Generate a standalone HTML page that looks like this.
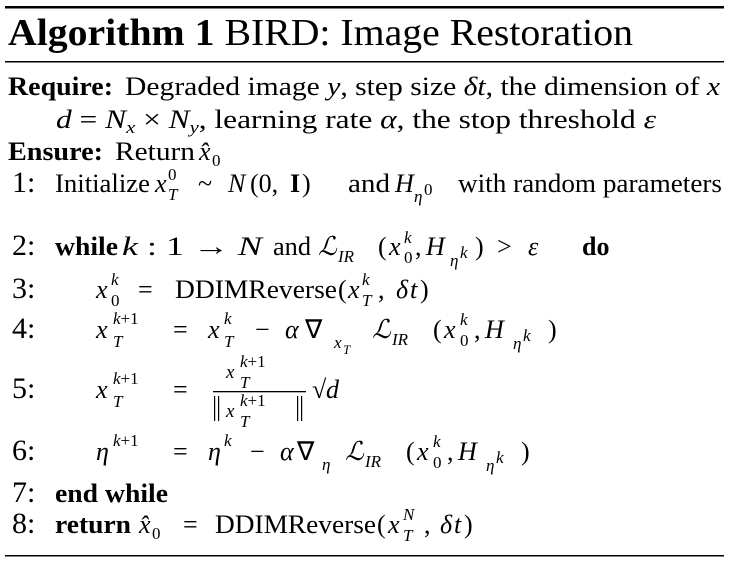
<!DOCTYPE html>
<html><head><meta charset="utf-8"><style>
html,body{margin:0;padding:0;background:#fff;width:729px;height:563px;overflow:hidden}
svg{display:block}
text{font-family:"Liberation Serif","Times New Roman",serif;fill:#000;font-weight:normal}
.b{font-weight:bold}.i{font-style:italic}.s{font-size:17px}.n{font-size:30px}
</style></head><body>
<svg width="729" height="563">
<rect x="5" y="6" width="719" height="2.5" fill="#000"/>
<rect x="5" y="61" width="719" height="1.5" fill="#000"/>
<rect x="5" y="555" width="719" height="1.5" fill="#000"/>
<text x="8" y="45" font-size="38" textLength="625" lengthAdjust="spacingAndGlyphs"><tspan class="b">Algorithm 1</tspan> BIRD: Image Restoration</text>

<g font-size="26">
<text x="8" y="95" class="b" textLength="105" lengthAdjust="spacingAndGlyphs">Require:</text>
<text x="125" y="95" textLength="595" lengthAdjust="spacingAndGlyphs">Degraded image <tspan class="i">y</tspan>, step size <tspan class="i">δt</tspan>, the dimension of <tspan class="i">x</tspan></text>
<text x="56" y="128" textLength="600" lengthAdjust="spacingAndGlyphs"><tspan class="i">d</tspan> = <tspan class="i">N</tspan><tspan class="i s" dy="5">x</tspan><tspan dy="-5"> × </tspan><tspan class="i">N</tspan><tspan class="i s" dy="5">y</tspan><tspan dy="-5">, learning rate </tspan><tspan class="i">α</tspan>, the stop threshold <tspan class="i">ε</tspan></text>
</g>
<g font-size="26">
<text x="8" y="160" class="b" textLength="95" lengthAdjust="spacingAndGlyphs">Ensure:</text>
<text x="115" y="160" textLength="80" lengthAdjust="spacingAndGlyphs">Return</text>
<text x="199" y="160" class="i">x̂</text><text x="212" y="166" class="s">0</text>
</g>

<g>
<text x="12" y="192" class="n">1:</text><text x="12" y="255" class="n">2:</text><text x="12" y="298" class="n">3:</text><text x="12" y="338" class="n">4:</text><text x="12" y="398" class="n">5:</text><text x="12" y="460" class="n">6:</text><text x="12" y="502" class="n">7:</text><text x="12" y="533" class="n">8:</text>
</g>

<g font-size="26">
<text x="55" y="192" textLength="95" lengthAdjust="spacingAndGlyphs">Initialize</text>
<text x="155" y="192" class="i">x</text><text x="168" y="180" class="s">0</text><text x="168" y="200" class="s i">T</text>
<text x="198" y="192">~</text><text x="228" y="192" class="i">N</text><text x="250" y="192">(0,</text><text x="290" y="192" class="b">I</text><text x="302" y="192">)</text>
<text x="348" y="192" textLength="42" lengthAdjust="spacingAndGlyphs">and</text>
<text x="395" y="192" class="i">H</text><text x="414" y="202" class="s i">η</text><text x="424" y="195" class="s">0</text>
<text x="458" y="192" textLength="264" lengthAdjust="spacingAndGlyphs">with random parameters</text>
</g>
<g font-size="26">
<text x="55" y="255" class="b" textLength="63" lengthAdjust="spacingAndGlyphs">while</text>
<text x="122" y="255" textLength="140" lengthAdjust="spacingAndGlyphs"><tspan class="i">k</tspan> : 1 → <tspan class="i">N</tspan></text>
<text x="273" y="255" textLength="38" lengthAdjust="spacingAndGlyphs">and</text>
<text x="318" y="255" class="i">ℒ</text><text x="338" y="262" class="s i">IR</text>
<text x="378" y="255">(</text><text x="389" y="255" class="i">x</text><text x="404" y="243" class="s i">k</text><text x="404" y="263" class="s">0</text>
<text x="415" y="255">,</text><text x="426" y="255" class="i">H</text><text x="450" y="266" class="s i">η</text><text x="460" y="258" class="s i">k</text>
<text x="475" y="255">)</text><text x="497" y="255">&gt;</text><text x="528" y="255" class="i">ε</text>
<text x="582" y="255" class="b">do</text>
</g>
<g font-size="26">
<text x="96" y="298" class="i">x</text><text x="111" y="285" class="s i">k</text><text x="111" y="306" class="s">0</text>
<text x="138" y="298">=</text>
<text x="175" y="298" textLength="162" lengthAdjust="spacingAndGlyphs">DDIMReverse</text>
<text x="338" y="298">(</text>
<text x="348" y="298" class="i">x</text><text x="362" y="285" class="s i">k</text><text x="362" y="306" class="s i">T</text>
<text x="378" y="298">,</text><text x="396" y="298" class="i">δ</text><text x="410" y="298" class="i">t</text><text x="420" y="298">)</text>
</g>
<g font-size="26">
<text x="96" y="338" class="i">x</text><text x="113" y="324" class="s"><tspan class="i">k</tspan>+1</text><text x="113" y="347" class="s i">T</text>
<text x="173" y="338">=</text>
<text x="208" y="338" class="i">x</text><text x="224" y="324" class="s i">k</text><text x="224" y="347" class="s i">T</text>
<text x="255" y="338">−</text><text x="285" y="338" class="i">α</text><text x="305" y="338">∇</text>
<text x="334" y="348" class="s i">x</text><text x="343" y="354" font-size="13" class="i">T</text>
<text x="372" y="338" class="i">ℒ</text><text x="392" y="345" class="s i">IR</text>
<text x="433" y="338">(</text><text x="444" y="338" class="i">x</text><text x="460" y="325" class="s i">k</text><text x="460" y="346" class="s">0</text>
<text x="474" y="338">,</text><text x="485" y="338" class="i">H</text><text x="513" y="349" class="s i">η</text><text x="523" y="341" class="s i">k</text>
<text x="548" y="338">)</text>
</g>
<g font-size="26">
<text x="96" y="398" class="i">x</text><text x="113" y="384" class="s"><tspan class="i">k</tspan>+1</text><text x="113" y="407" class="s i">T</text>
<text x="173" y="398">=</text>
<text x="226" y="378" font-size="19" class="i">x</text><text x="240" y="367" class="s"><tspan class="i">k</tspan>+1</text><text x="240" y="388" class="s i">T</text>
<rect x="213" y="391" width="93" height="1.3" fill="#000"/>
<rect x="214" y="396" width="1.2" height="25" fill="#000"/><rect x="218" y="396" width="1.2" height="25" fill="#000"/>
<text x="226" y="417" font-size="19" class="i">x</text><text x="240" y="406" class="s"><tspan class="i">k</tspan>+1</text><text x="240" y="427" class="s i">T</text>
<rect x="297" y="396" width="1.2" height="25" fill="#000"/><rect x="301" y="396" width="1.2" height="25" fill="#000"/>
<text x="312" y="398">√</text><text x="326" y="398" class="i">d</text>
</g>
<g font-size="26">
<text x="96" y="460" class="i">η</text><text x="113" y="446" class="s"><tspan class="i">k</tspan>+1</text>
<text x="173" y="460">=</text>
<text x="208" y="460" class="i">η</text><text x="224" y="446" class="s i">k</text>
<text x="250" y="460">−</text><text x="280" y="460" class="i">α</text><text x="297" y="460">∇</text>
<text x="322" y="470" class="s i">η</text>
<text x="345" y="460" class="i">ℒ</text><text x="365" y="467" class="s i">IR</text>
<text x="406" y="460">(</text><text x="417" y="460" class="i">x</text><text x="433" y="447" class="s i">k</text><text x="433" y="468" class="s">0</text>
<text x="447" y="460">,</text><text x="458" y="460" class="i">H</text><text x="486" y="471" class="s i">η</text><text x="496" y="463" class="s i">k</text>
<text x="521" y="460">)</text>
</g>
<g font-size="26">
<text x="55" y="502" class="b" textLength="113" lengthAdjust="spacingAndGlyphs">end while</text>
</g>
<g font-size="26">
<text x="55" y="533" class="b" textLength="76" lengthAdjust="spacingAndGlyphs">return</text>
<text x="139" y="533" class="i">x̂</text><text x="152" y="539" class="s">0</text>
<text x="183" y="533">=</text>
<text x="215" y="533" textLength="161" lengthAdjust="spacingAndGlyphs">DDIMReverse</text>
<text x="377" y="533">(</text>
<text x="388" y="533" class="i">x</text><text x="403" y="520" class="s i">N</text><text x="403" y="541" class="s i">T</text>
<text x="424" y="533">,</text><text x="440" y="533" class="i">δ</text><text x="454" y="533" class="i">t</text><text x="464" y="533">)</text>
</g>
</svg>
</body></html>
